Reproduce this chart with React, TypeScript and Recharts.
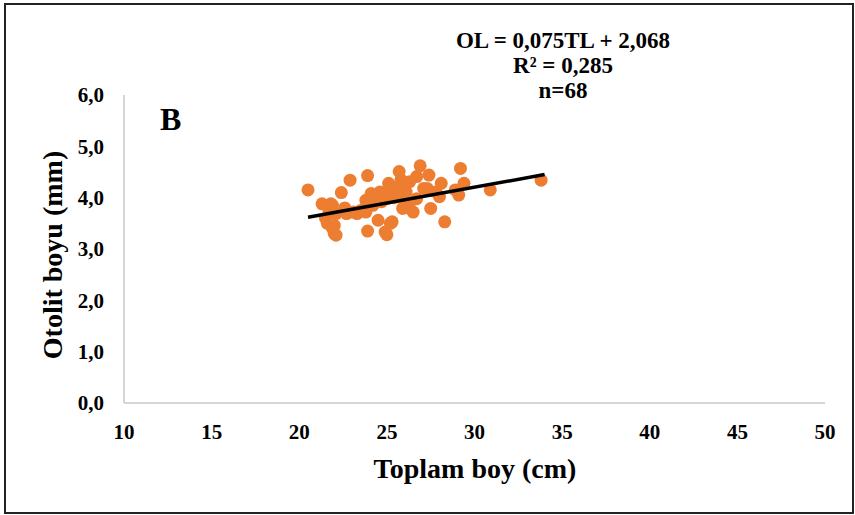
import { ScatterChart, Scatter, XAxis, YAxis } from "recharts";

// Toplam boy (cm) of each fish
const lengths = [
  20.5, 21.3, 21.8, 21.5, 21.6, 21.9, 22.0, 22.1, 21.9, 22.0,
  22.1, 22.4, 22.7, 22.9, 23.3, 23.5, 23.8, 23.8, 23.9, 23.9,
  24.1, 24.4, 24.5, 24.6, 24.2, 24.8, 24.9, 25.0, 25.0, 25.1,
  25.3, 25.2, 25.4, 25.5, 25.7, 25.8, 25.9, 26.1, 26.1, 26.3,
  26.3, 26.5, 26.7, 26.7, 26.9, 27.1, 27.3, 27.4, 27.5, 27.8,
  28.0, 28.1, 28.3, 28.9, 29.1, 29.2, 29.4, 30.9, 33.8, 24.3,
  23.1, 24.7, 25.6, 26.0, 22.6, 21.7, 24.0, 25.3,
];

// Otolit boyu (mm) of each fish
const otolith = [
  4.15, 3.88, 3.88, 3.6, 3.5, 3.4, 3.3, 3.27, 3.85, 3.46,
  3.69, 4.1, 3.69, 4.34, 3.69, 3.75, 3.72, 3.95, 4.43, 3.35,
  4.08, 3.95, 3.56, 4.11, 3.85, 4.05, 3.33, 3.98, 3.28, 4.28,
  3.53, 3.5, 4.0, 4.18, 4.51, 4.35, 3.79, 4.11, 3.85, 4.31,
  3.79, 3.72, 4.41, 3.98, 4.62, 4.18, 4.18, 4.44, 3.79, 4.11,
  4.02, 4.28, 3.53, 4.15, 4.05, 4.57, 4.28, 4.15, 4.34, 4.0,
  3.72, 3.92, 4.02, 4.25, 3.8, 3.75, 3.9, 4.2,
];

// trend line ends as drawn
const trendX = [20.5, 34.0];
const trendY = [3.62, 4.45];

const xTicks = [10, 15, 20, 25, 30, 35, 40, 45, 50];
const yTicks = [0, 1, 2, 3, 4, 5, 6];

const equationLines = ["OL = 0,075TL + 2,068", "R² = 0,285", "n=68"];

const points = lengths.map((x, i) => ({ x, y: otolith[i] }));
const trend = trendX.map((x, i) => ({ x, y: trendY[i] }));

const font = "'Liberation Serif', 'Times New Roman', serif";
const tickStyle = { fontFamily: font, fontWeight: 700, fontSize: 21, fill: "#000" };

const Dot = (props: any) => <circle cx={props.cx} cy={props.cy} r={6.5} fill="#ED7D31" />;
const NoDot = () => <g />;

export default function App() {
  return (
    <div
      style={{
        position: "absolute",
        left: 0,
        top: 0,
        width: 855,
        height: 515,
        background: "#fff",
        fontFamily: font,
        fontWeight: 700,
        color: "#000",
      }}
    >
      <div
        style={{
          position: "absolute",
          left: 4,
          top: 3,
          width: 850,
          height: 511,
          border: "2px solid #222",
          boxSizing: "border-box",
        }}
      />
      <ScatterChart
        width={855}
        height={515}
        margin={{ top: 95, right: 30, bottom: 82, left: 64 }}
        style={{ position: "absolute", left: 0, top: 0 }}
      >
        <XAxis
          type="number"
          dataKey="x"
          domain={[10, 50]}
          ticks={xTicks}
          height={30}
          axisLine={{ stroke: "#c8c8c8", strokeWidth: 1.5 }}
          tickLine={false}
          tickMargin={15}
          tick={tickStyle}
          interval={0}
        />
        <YAxis
          type="number"
          dataKey="y"
          domain={[0, 6]}
          ticks={yTicks}
          width={60}
          axisLine={{ stroke: "#c8c8c8", strokeWidth: 1.5 }}
          tickLine={false}
          tickMargin={14}
          tick={tickStyle}
          interval={0}
          tickFormatter={(v: number) => v.toFixed(1).replace(".", ",")}
        />
        <Scatter data={points} fill="#ED7D31" shape={Dot} isAnimationActive={false} />
        <Scatter
          data={trend}
          line={{ stroke: "#000", strokeWidth: 3.5 }}
          shape={NoDot}
          isAnimationActive={false}
        />
      </ScatterChart>

      <div style={{ position: "absolute", left: 160, top: 101, fontSize: 32, lineHeight: "36px" }}>B</div>

      <div
        style={{
          position: "absolute",
          left: 413,
          top: 28,
          width: 300,
          textAlign: "center",
          fontSize: 23,
          lineHeight: "25px",
        }}
      >
        {equationLines.map((t) => (
          <div key={t}>{t}</div>
        ))}
      </div>

      <div
        style={{
          position: "absolute",
          left: 325,
          top: 452,
          width: 300,
          textAlign: "center",
          fontSize: 28,
          lineHeight: "34px",
        }}
      >
        Toplam boy (cm)
      </div>

      <div
        style={{
          position: "absolute",
          left: 53 - 150,
          top: 255 - 17,
          width: 300,
          textAlign: "center",
          fontSize: 28,
          lineHeight: "34px",
          transform: "rotate(-90deg)",
        }}
      >
        Otolit boyu (mm)
      </div>
    </div>
  );
}
